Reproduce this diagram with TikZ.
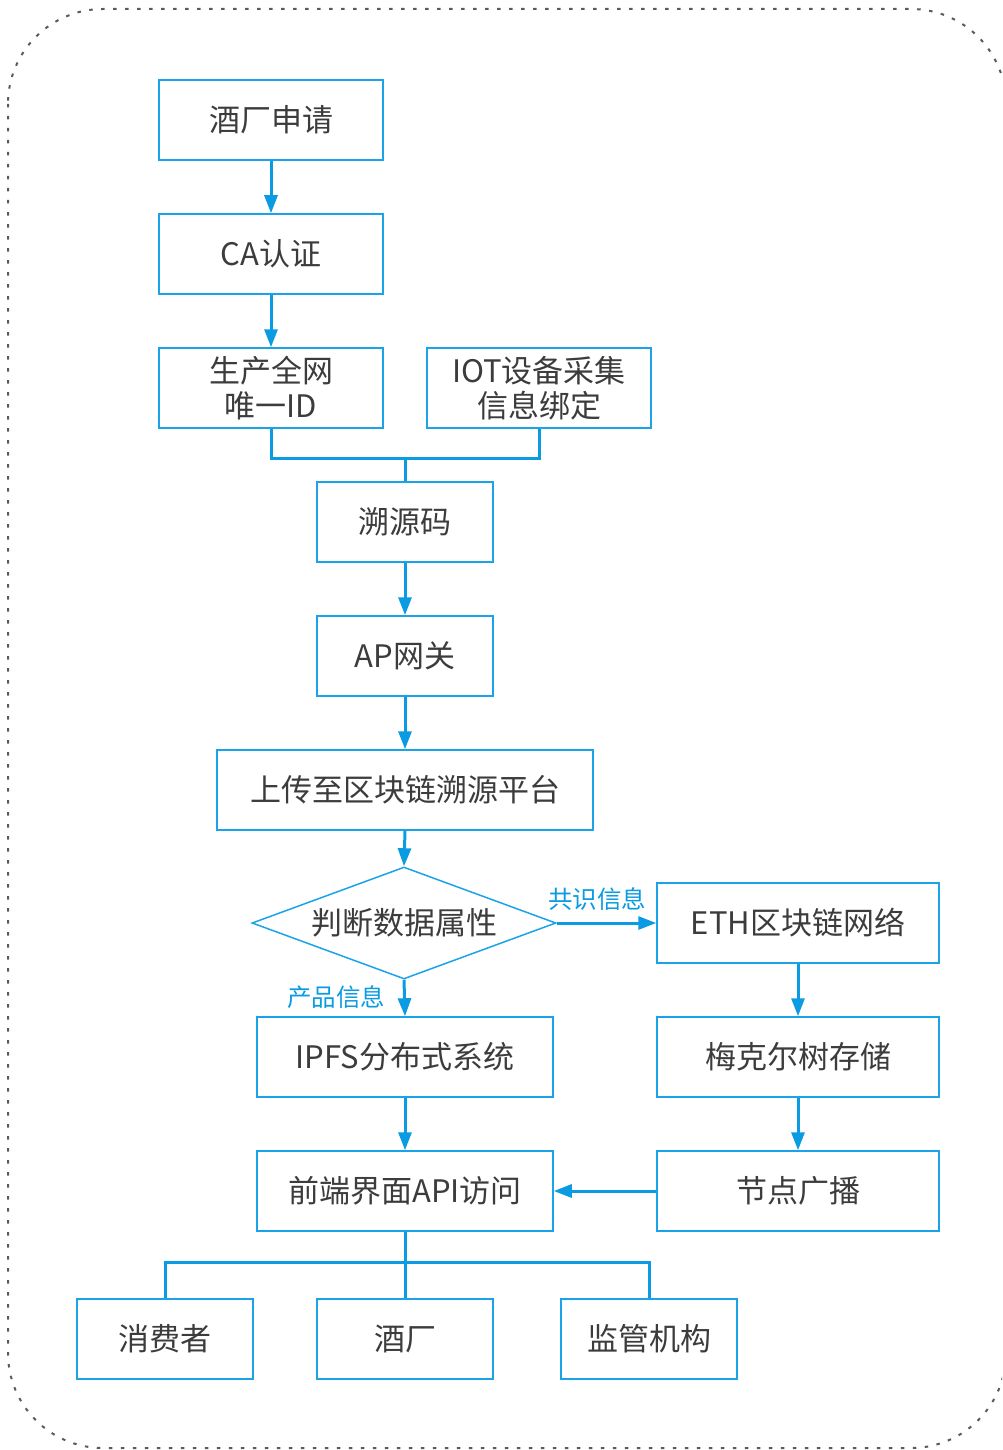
\documentclass[tikz,border=0pt]{standalone}
\usepackage{fontspec}
\setmainfont{Noto Sans CJK SC}
\usetikzlibrary{arrows.meta,shapes.geometric}
\definecolor{boxc}{HTML}{1AA3E8}
\definecolor{arrc}{HTML}{0A9BE2}
\definecolor{txtc}{HTML}{3C3C3C}
\definecolor{brd}{HTML}{5A5A5A}
\begin{document}
\begin{tikzpicture}[x=1pt,y=-1pt,
  box/.style={draw=boxc,line width=1.5pt,minimum width=#1,minimum height=80pt,
    text=txtc,font=\fontsize{31}{35}\selectfont,inner sep=0pt,align=center},
  conn/.style={draw=arrc,line width=3pt},
  arr/.style={conn,-{Triangle[length=18pt,width=13pt]}},
  lbl/.style={text=arrc,font=\fontsize{24.5}{26}\selectfont,inner sep=0pt}]
\useasboundingbox (0,0) rectangle (1002,1450);
\begin{scope}
\clip (0,0) rectangle (1002,1450);
\draw[brd,line width=2pt,dash pattern=on 3.5pt off 8.5pt,rounded corners=95pt] (8,9) rectangle (1006,1448);
\end{scope}

\node[box=224] (apply) at (271,120) {酒厂申请};
\node[box=224] (ca) at (271,254) {CA认证};
\node[box=224] (uid) at (271,388) {生产全网\\唯一ID};
\node[box=224] (iot) at (539,388) {IOT设备采集\\信息绑定};
\node[box=176] (src) at (405,522) {溯源码};
\node[box=176] (ap) at (405,656) {AP网关};
\node[box=376] (up) at (405,790) {上传至区块链溯源平台};
\node[draw=boxc,line width=1.5pt,shape=diamond,aspect=2.71,minimum width=304pt,minimum height=112pt,
  inner sep=0pt,text=txtc,font=\fontsize{31}{35}\selectfont] (dia) at (404,923) {判断数据属性};
\node[box=282] (eth) at (798,923) {ETH区块链网络};
\node[box=282] (mer) at (798,1057) {梅克尔树存储};
\node[box=282] (bc) at (798,1191) {节点广播};
\node[box=296] (ipfs) at (405,1057) {IPFS分布式系统};
\node[box=296] (api) at (405,1191) {前端界面API访问};
\node[box=176] (c1) at (165,1339) {消费者};
\node[box=176] (c2) at (405,1339) {酒厂};
\node[box=176] (c3) at (649,1339) {监管机构};

\node[lbl] (l1) at (597,899) {共识信息};
\node[lbl] (l2) at (336,997) {产品信息};

\draw[arr] (apply.south) -- (ca.north);
\draw[arr] (ca.south) -- (uid.north);
\coordinate (m1) at (405,458);
\draw[conn] (uid.south) |- (m1) -| (iot.south);
\draw[conn] (m1) -- (src.north);
\draw[arr] (src.south) -- (ap.north);
\draw[arr] (ap.south) -- (up.north);
\draw[arr] (up.south) -- (dia.north);
\draw[arr] (dia.east) -- (eth.west);
\draw[arr] (dia.south) -- (ipfs.north);
\draw[arr] (eth.south) -- (mer.north);
\draw[arr] (mer.south) -- (bc.north);
\draw[arr] (ipfs.south) -- (api.north);
\draw[arr] (bc.west) -- (api.east);
\coordinate (m2) at (405,1262);
\draw[conn] (api.south) -- (m2);
\draw[conn] (c1.north) |- (m2) -| (c3.north);
\draw[conn] (m2) -- (c2.north);
\end{tikzpicture}
\end{document}
